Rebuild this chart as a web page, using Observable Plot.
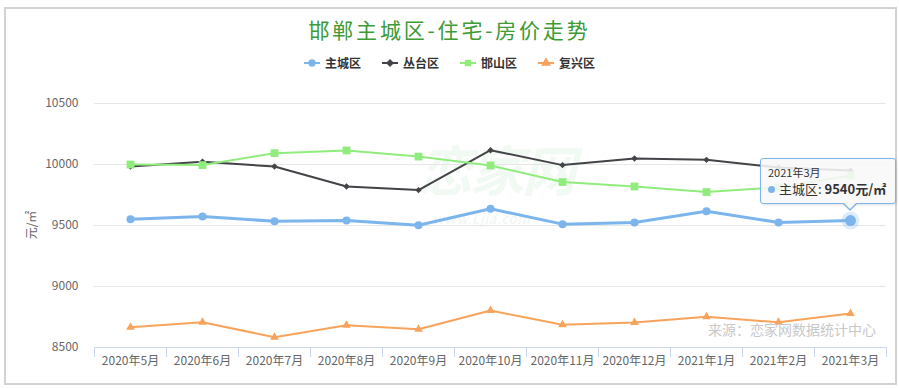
<!DOCTYPE html>
<html>
<head>
<meta charset="utf-8">
<script src="https://cdn.jsdelivr.net/npm/d3@7"></script>
<script src="https://cdn.jsdelivr.net/npm/@observablehq/plot@0.6"></script>
<style>
  html, body { margin: 0; padding: 0; background: #fff; }
  #page { position: relative; width: 899px; height: 388px; overflow: hidden; font-family: "Noto Sans CJK SC", "Noto Sans", sans-serif; }
  #frame { position: absolute; left: 4px; top: 7px; width: 893px; height: 378px; box-sizing: border-box; border: 2px solid #d2d2d2; pointer-events: none; }
  #title { position: absolute; left: 0; top: 14px; width: 899px; text-align: center; font-size: 21px; letter-spacing: 2.8px; color: #3d9a35; line-height: 30px; }
  #legend { position: absolute; left: 0; top: 54px; width: 899px; display: flex; justify-content: center; gap: 21px; font-size: 12px; font-weight: bold; color: #333; line-height: 18px; }
  #legend .item { display: flex; align-items: center; gap: 5px; }
  #chart { position: absolute; left: 0; top: 80px; }
  #ylabel { position: absolute; left: 30px; top: 225px; transform: translate(-50%, -50%) rotate(-90deg); font-size: 12px; color: #666; white-space: nowrap; }
  #source { position: absolute; left: 708px; top: 319px; font-size: 14px; color: #c8c8c8; white-space: nowrap; }
  #wm { position: absolute; left: 418px; top: 140px; font-size: 54px; line-height: 56px; font-style: italic; font-weight: bold; color: rgba(120, 200, 140, 0.10); white-space: nowrap; letter-spacing: -2px; }
  #wm2 { position: absolute; left: 432px; top: 211px; font-size: 14px; line-height: 15px; font-style: italic; font-weight: bold; color: rgba(120, 160, 140, 0.10); white-space: nowrap; }
  #tip { position: absolute; box-sizing: border-box; width: 136px; height: 46px; background: rgba(248, 248, 248, 0.88); border: 1px solid #7cb5ec; border-radius: 3px; box-shadow: 1px 1px 3px rgba(0,0,0,0.12); }
  #tip .t1 { position: absolute; left: 7px; top: 6px; font-size: 11px; color: #333; line-height: 14px; white-space: nowrap; }
  #tip .t2 { position: absolute; left: 7px; top: 21px; font-size: 13px; color: #333; line-height: 18px; white-space: nowrap; }
  #tip .dot { display: inline-block; width: 7px; height: 7px; border-radius: 50%; background: #7cb5ec; margin-right: 4px; vertical-align: 1px; }
  #tipArrow { position: absolute; width: 0; height: 0; border-left: 7px solid transparent; border-right: 7px solid transparent; border-top: 7px solid #7cb5ec; }
  #tipArrowIn { position: absolute; width: 0; height: 0; border-left: 6px solid transparent; border-right: 6px solid transparent; border-top: 6px solid rgb(248,248,248); }
</style>
</head>
<body>
<div id="page">
  <div id="wm">恋家网</div>
  <div id="wm2">www.Ljia.com</div>
  <div id="title"></div>
  <div id="legend"></div>
  <div id="chart"></div>
  <div id="ylabel"></div>
  <div id="source"></div>
  <div id="frame"></div>
</div>
<script>
const titleText = "邯郸主城区-住宅-房价走势";
const yLabel = "元/㎡";
const sourceText = "来源：恋家网数据统计中心";
const months = ["2020年5月","2020年6月","2020年7月","2020年8月","2020年9月","2020年10月","2020年11月","2020年12月","2021年1月","2021年2月","2021年3月"];
const seriesNames = ["主城区","丛台区","邯山区","复兴区"];
const zhucheng = [9552, 9574, 9535, 9541, 9502, 9637, 9511, 9525, 9617, 9525, 9540];
const congtai  = [9984, 10022, 9984, 9820, 9790, 10117, 9995, 10049, 10038, 9975, 9950];
const hanshan  = [10000, 9995, 10093, 10115, 10065, 9992, 9856, 9820, 9774, 9812, 9910];
const fuxing   = [8666, 8707, 8584, 8682, 8650, 8803, 8686, 8705, 8752, 8707, 8779];
const yTicks = [8500, 9000, 9500, 10000, 10500];
const colors = ["#7cb5ec", "#434348", "#90ed7d", "#f7a35c"];
const symbols = ["circle", "diamond2", "square", "triangle"];
const tipMonth = "2021年3月";
const tipValue = 9540;

const valuesBy = [zhucheng, congtai, hanshan, fuxing];
const data = [];
seriesNames.forEach((s, si) => months.forEach((m, i) => data.push({series: s, month: m, value: valuesBy[si][i]})));

document.getElementById("title").textContent = titleText;
document.getElementById("ylabel").textContent = yLabel;
document.getElementById("source").textContent = sourceText;

// legend
const legend = document.getElementById("legend");
seriesNames.forEach((s, i) => {
  const item = document.createElement("div");
  item.className = "item";
  const ns = "http://www.w3.org/2000/svg";
  const svg = document.createElementNS(ns, "svg");
  svg.setAttribute("width", 16); svg.setAttribute("height", 12);
  const line = document.createElementNS(ns, "line");
  line.setAttribute("x1", 0); line.setAttribute("x2", 16); line.setAttribute("y1", 6); line.setAttribute("y2", 6);
  line.setAttribute("stroke", colors[i]); line.setAttribute("stroke-width", 2);
  svg.appendChild(line);
  const p = document.createElementNS(ns, "path");
  const sym = {circle: d3.symbolCircle, diamond2: d3.symbolDiamond2, square: d3.symbolSquare, triangle: d3.symbolTriangle}[symbols[i]];
  p.setAttribute("d", d3.symbol(sym, 42)());
  p.setAttribute("transform", "translate(8,6)");
  p.setAttribute("fill", colors[i]);
  svg.appendChild(p);
  item.appendChild(svg);
  const t = document.createElement("span");
  t.textContent = s;
  item.appendChild(t);
  legend.appendChild(item);
});

const W = 899, H = 308, mL = 94, mR = 13, mT = 23, mB = 41;
const bw = (W - mL - mR) / months.length;

const lastPts = data.filter(d => d.series === seriesNames[0] && d.month === tipMonth);

const chart = Plot.plot({
  width: W, height: H,
  marginLeft: mL, marginRight: mR, marginTop: mT, marginBottom: mB,
  style: {fontFamily: '"Noto Sans CJK SC", "Noto Sans", sans-serif', fontSize: "12px", background: "transparent", overflow: "visible"},
  x: {type: "band", domain: months, padding: 0, label: null},
  y: {domain: [8500, 10500], label: null},
  color: {domain: seriesNames, range: colors},
  symbol: {domain: seriesNames, range: symbols},
  marks: [
    Plot.ruleY(yTicks, {stroke: "#e6e6e6", strokeWidth: 1}),
    Plot.ruleY([yTicks[0]], {stroke: "#ccd6eb", strokeWidth: 1}),
    Plot.ruleX(months, {x: d => d, dx: -bw / 2, y1: yTicks[0], y2: yTicks[0], insetBottom: -10, stroke: "#ccd6eb"}),
    Plot.ruleX([months[months.length - 1]], {x: d => d, dx: bw / 2, y1: yTicks[0], y2: yTicks[0], insetBottom: -10, stroke: "#ccd6eb"}),
    Plot.axisY({ticks: yTicks, tickSize: 0, tickPadding: 16, tickFormat: d => String(d), fill: "#666", fontSize: 12, label: null}),
    Plot.axisX({tickSize: 0, tickPadding: 9, fill: "#666", fontSize: 12, label: null}),
    Plot.line(data.filter(d => d.series !== seriesNames[0]), {x: "month", y: "value", z: "series", stroke: "series", strokeWidth: 2}),
    Plot.line(data.filter(d => d.series === seriesNames[0]), {x: "month", y: "value", stroke: "series", strokeWidth: 3}),
    Plot.dot(data.filter(d => d.series === seriesNames[1]), {x: "month", y: "value", symbol: "series", fill: "series", r: 2.9}),
    Plot.dot(data.filter(d => d.series === seriesNames[2]), {x: "month", y: "value", symbol: "series", fill: "series", r: 4.4}),
    Plot.dot(data.filter(d => d.series === seriesNames[3]), {x: "month", y: "value", symbol: "series", fill: "series", r: 3.2}),
    Plot.dot(data.filter(d => d.series === seriesNames[0]), {x: "month", y: "value", symbol: "series", fill: "series", r: 4}),
    Plot.dot(lastPts, {x: "month", y: "value", fill: "series", fillOpacity: 0.25, r: 9}),
    Plot.dot(lastPts, {x: "month", y: "value", fill: "series", r: 5.5})
  ]
});
document.getElementById("chart").appendChild(chart);

// tooltip anchored via the chart's scales
const px = chart.scale("x").apply(tipMonth) + bw / 2;
const py = chart.scale("y").apply(tipValue) + 80;
const tip = document.createElement("div");
tip.id = "tip";
tip.style.left = (px - 90) + "px";
tip.style.top = (py - 62) + "px";
const t1 = document.createElement("div"); t1.className = "t1"; t1.textContent = tipMonth;
const t2 = document.createElement("div"); t2.className = "t2";
const dot = document.createElement("span"); dot.className = "dot";
t2.appendChild(dot);
t2.appendChild(document.createTextNode(seriesNames[0] + ": "));
const b = document.createElement("b"); b.textContent = tipValue + "元/㎡";
t2.appendChild(b);
tip.appendChild(t1); tip.appendChild(t2);
document.getElementById("page").appendChild(tip);
const arrow = document.createElement("div"); arrow.id = "tipArrow";
arrow.style.left = (px - 7) + "px"; arrow.style.top = (py - 16) + "px";
document.getElementById("page").appendChild(arrow);
const arrowIn = document.createElement("div"); arrowIn.id = "tipArrowIn";
arrowIn.style.left = (px - 6) + "px"; arrowIn.style.top = (py - 17) + "px";
document.getElementById("page").appendChild(arrowIn);
</script>
</body>
</html>
